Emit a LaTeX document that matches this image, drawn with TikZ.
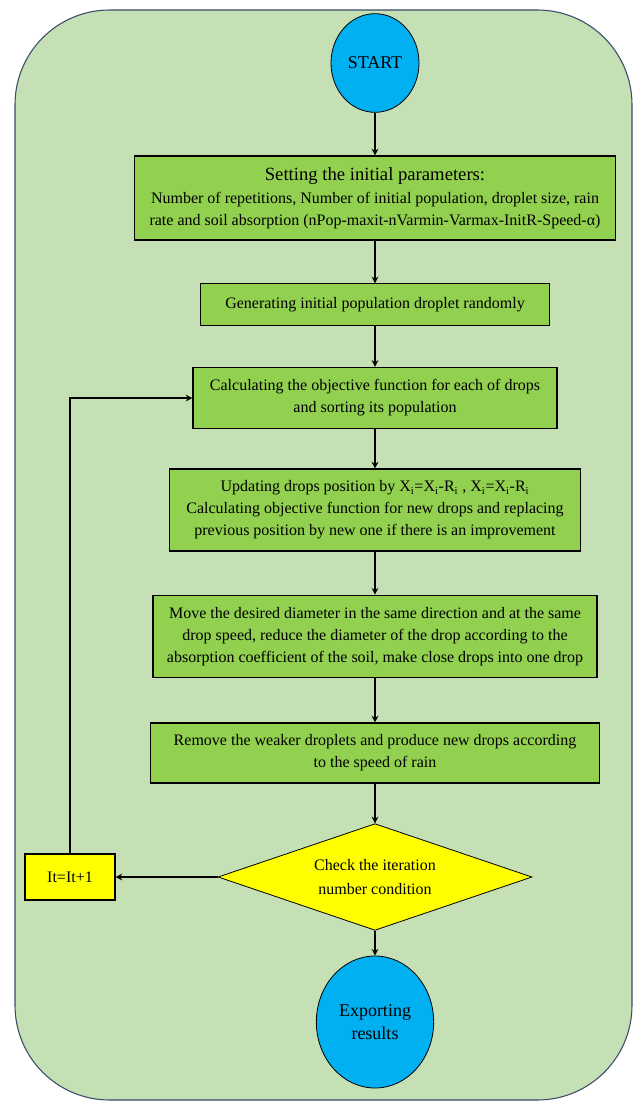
\documentclass[tikz,border=0pt]{standalone}
\usepackage{fontspec}
\setmainfont{Liberation Serif}
\usetikzlibrary{positioning, arrows.meta, shapes.geometric}

\definecolor{bgGreen}{HTML}{C5E0B4}
\definecolor{frameBlue}{HTML}{3A4C6A}
\definecolor{boxGreen}{HTML}{92D050}
\definecolor{termBlue}{HTML}{00B0F0}
\definecolor{checkYellow}{HTML}{FFFF00}

\begin{document}
\begin{tikzpicture}[
    x=0.75pt, y=-0.75pt,
    frame/.style={
        draw=frameBlue,
        fill=bgGreen,
        line width=0.8pt,
        rounded corners=71pt
    },
    terminal/.style={
        ellipse,
        draw=black,
        line width=0.6pt,
        fill=termBlue,
        inner sep=0pt,
        align=center,
        font=\fontsize{13.5}{17}\selectfont
    },
    block/.style={
        rectangle,
        draw=black,
        line width=0.8pt,
        fill=boxGreen,
        inner sep=2pt,
        align=center,
        font=\fontsize{12}{16.5}\selectfont
    },
    decision/.style={
        diamond,
        draw=black,
        line width=0.6pt,
        fill=checkYellow,
        aspect=3,
        inner sep=0pt,
        align=center,
        font=\fontsize{12}{18}\selectfont
    },
    counter/.style={
        rectangle,
        draw=black,
        line width=0.8pt,
        fill=checkYellow,
        font=\fontsize{12}{14}\selectfont
    },
    arrow/.style={-{Stealth[length=5pt, width=5pt]}, line width=1.3pt}
]

\useasboundingbox (0,0) rectangle (638,1104);

% Background panel
\draw[frame] (15,10) rectangle (632,1100);

% Start
\node[terminal, minimum width=66pt, minimum height=74pt] (start) at (375,63) {START};

% Process steps
\node[block, minimum width=361pt, minimum height=63pt] (init) at (375,198)
    {{\fontsize{14}{17}\selectfont Setting the initial parameters:}\\[1pt]
     Number of repetitions, Number of initial population, droplet size, rain\\
     rate and soil absorption (nPop-maxit-nVarmin-Varmax-InitR-Speed-α)};

\node[block, minimum width=262pt, minimum height=31pt] (gen) at (375,304.5)
    {Generating initial population droplet randomly};

\node[block, minimum width=273pt, minimum height=46pt] (calc) at (375,398)
    {Calculating the objective function for each of drops\\
     and sorting its population};

\node[block, minimum width=308pt, minimum height=61.5pt] (update) at (375,510)
    {Updating drops position by X\textsubscript{i}=X\textsubscript{i}-R\textsubscript{i} , X\textsubscript{i}=X\textsubscript{i}-R\textsubscript{i}\\
     Calculating objective function for new drops and replacing\\
     previous position by new one if there is an improvement};

\node[block, minimum width=333pt, minimum height=62pt] (move) at (375,636.5)
    {Move the desired diameter in the same direction and at the same\\
     drop speed, reduce the diameter of the drop according to the\\
     absorption coefficient of the soil, make close drops into one drop};

\node[block, minimum width=337pt, minimum height=45pt] (remove) at (375,753)
    {Remove the weaker droplets and produce new drops according\\
     to the speed of rain};

% Decision and loop counter
\node[decision, minimum width=235.5pt, minimum height=80pt] (check) at (375,877)
    {Check the iteration\\ number condition};

\node[counter, minimum width=67.5pt, minimum height=34.5pt] (iter) at (70,877) {It=It+1};

% End
\node[terminal, minimum width=88pt, minimum height=99pt] (export) at (375,1022)
    {Exporting\\ results};

% Arrows
\draw[arrow] (start) -- (init);
\draw[arrow] (init) -- (gen);
\draw[arrow] (gen) -- (calc);
\draw[arrow] (calc) -- (update);
\draw[arrow] (update) -- (move);
\draw[arrow] (move) -- (remove);
\draw[arrow] (remove) -- (check);
\draw[arrow] (check) -- (export);
\draw[arrow] (check) -- (iter);
\draw[arrow] (iter.north) |- (calc.west);

\end{tikzpicture}
\end{document}
